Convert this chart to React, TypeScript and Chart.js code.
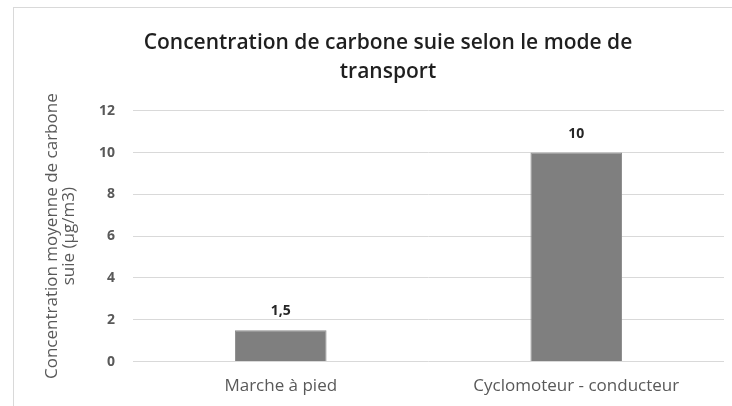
import React, { useEffect, useRef } from "react";
import { Chart, registerables } from "chart.js";

Chart.register(...registerables);

const categories: string[] = ["Marche à pied", "Cyclomoteur - conducteur"];
const values: number[] = [1.5, 10];
const titleLines: string[] = ["Concentration de carbone suie selon le mode de", "transport"];
const yTitleLines: string[] = ["Concentration moyenne de carbone", "suie (µg/m3)"];
const yMin = 0;
const yMax = 12;
const yStep = 2;

const FONT = "'Open Sans', 'DejaVu Sans', sans-serif";

const borderPlugin = {
  id: "frameBorder",
  beforeDraw(chart: any) {
    const ctx = chart.ctx;
    ctx.save();
    ctx.fillStyle = "#ffffff";
    ctx.fillRect(0, 0, chart.width, chart.height);
    ctx.strokeStyle = "#d9d9d9";
    ctx.lineWidth = 1;
    ctx.strokeRect(13.5, 7.5, chart.width + 50, chart.height + 50);
    ctx.restore();
  },
};

const labelPlugin = {
  id: "barValueLabels",
  afterDatasetsDraw(chart: any) {
    const ctx = chart.ctx;
    const meta = chart.getDatasetMeta(0);
    ctx.save();
    ctx.font = `bold 14px ${FONT}`;
    ctx.fillStyle = "#262626";
    ctx.textAlign = "center";
    ctx.textBaseline = "middle";
    meta.data.forEach((bar: any, i: number) => {
      const v = values[i];
      const txt = String(v).replace(".", ",");
      ctx.fillText(txt, bar.x, bar.y - 19);
    });
    ctx.restore();
  },
};

export default function App() {
  const ref = useRef<HTMLCanvasElement | null>(null);
  useEffect(() => {
    if (!ref.current) return;
    const chart = new Chart(ref.current, {
      type: "bar",
      data: {
        labels: categories,
        datasets: [
          {
            data: values,
            backgroundColor: "#7f7f7f",
            borderColor: "#8c8c8c",
            borderWidth: 1,
            barPercentage: 0.31,
            categoryPercentage: 1,
          },
        ],
      },
      options: {
        responsive: false,
        animation: false,
        devicePixelRatio: 1,
        layout: { padding: { left: 14, right: 0, top: 0, bottom: -4 } },
        plugins: {
          legend: { display: false },
          tooltip: { enabled: false },
          title: {
            display: true,
            text: titleLines,
            color: "#1f1f1f",
            font: { family: FONT, size: 21, weight: 600, lineHeight: 1.35 },
            padding: { top: 29, bottom: 25 },
          },
        },
        scales: {
          x: {
            grid: { display: false, drawTicks: false },
            border: { display: false },
            ticks: {
              color: "#595959",
              font: { family: FONT, size: 17 },
              padding: 14,
            },
          },
          y: {
            min: yMin,
            max: yMax,
            grid: { color: "#d9d9d9", lineWidth: 1, drawTicks: false },
            border: { display: false },
            ticks: {
              stepSize: yStep,
              color: "#595959",
              font: { family: FONT, size: 14, weight: "bold" },
              padding: 18,
            },
            title: {
              display: true,
              text: yTitleLines,
              color: "#595959",
              font: { family: FONT, size: 17, lineHeight: 1.0 },
              padding: { top: 30, bottom: 0 },
            },
            afterFit(scale: any) {
              scale.width = 119;
            },
          },
          y2: {
            position: "right",
            display: true,
            grid: { display: false, drawTicks: false },
            border: { display: false },
            ticks: { display: false },
            afterFit(scale: any) {
              scale.width = 38;
            },
          },
        },
      },
      plugins: [borderPlugin, labelPlugin],
    } as any);
    return () => chart.destroy();
  }, []);
  return (
    <div
      style={{
        position: "fixed",
        left: 0,
        top: 0,
        width: 732,
        height: 406,
        overflow: "hidden",
        background: "#fff",
      }}
    >
      <canvas ref={ref} width={762} height={406} style={{ display: "block", width: 762, height: 406 }} />
    </div>
  );
}
